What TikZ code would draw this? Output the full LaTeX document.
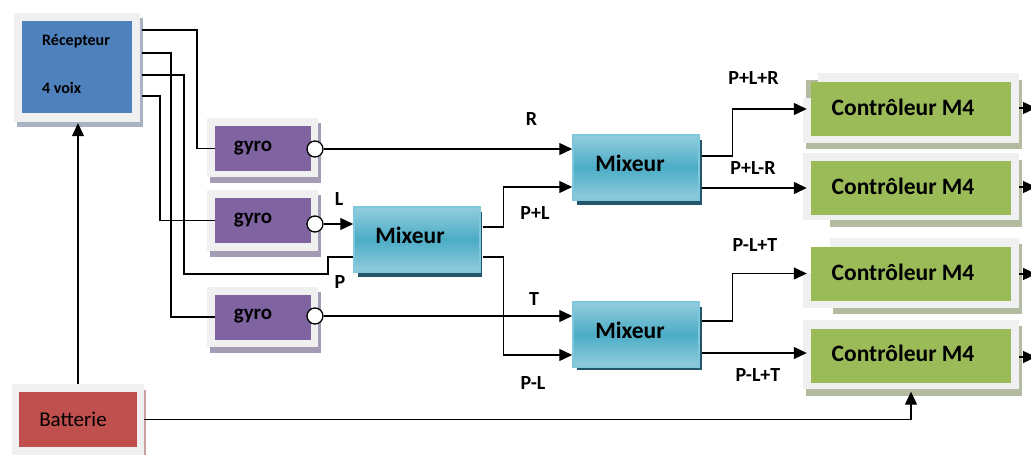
\documentclass[tikz,border=0pt]{standalone}
\usepackage{fontspec}
\setmainfont{Carlito}
\usetikzlibrary{arrows.meta,calc}
\definecolor{framegray}{HTML}{F0F0F0}
\definecolor{recblue}{HTML}{4F81BD}
\definecolor{recshadow}{HTML}{A9B2C2}
\definecolor{gyropurple}{HTML}{8064A2}
\definecolor{gyroshadow}{HTML}{A49BB4}
\definecolor{mixlight}{HTML}{93CDDD}
\definecolor{mixmid}{HTML}{4BACC6}
\definecolor{mixborder}{HTML}{7FC8DC}
\definecolor{mixshadow}{HTML}{23566A}
\definecolor{ctrlgreen}{HTML}{9BBB59}
\definecolor{ctrlshadow}{HTML}{B3BBA1}
\definecolor{batred}{HTML}{C0504D}
\definecolor{batshadow}{HTML}{C9A0A0}
\tikzset{
  conn/.style={line width=1.3pt, draw=black},
  arr/.style={conn, -{Triangle[length=13pt,width=12pt]}},
  recbox/.style={fill=recblue, draw=none, minimum width=110pt, minimum height=92pt},
  gyrobox/.style={fill=gyropurple, draw=none, minimum width=96pt, minimum height=45pt},
  mixbox/.style={top color=mixlight, bottom color=mixlight, middle color=mixmid, draw=mixborder, line width=1.5pt, minimum width=126pt, minimum height=65pt},
  ctrlbox/.style={fill=ctrlgreen, draw=none, minimum width=200pt, minimum height=54pt},
  batbox/.style={fill=batred, draw=none, minimum width=118pt, minimum height=55pt},
  dot/.style={circle, draw=black, fill=white, line width=1.3pt, minimum size=16pt, inner sep=0pt},
  lbl/.style={font=\fontsize{20}{22}\selectfont\bfseries, inner sep=0pt},
  bigtxt/.style={font=\fontsize{23.5}{26}\selectfont\bfseries, inner sep=0pt},
  gyrotxt/.style={font=\fontsize{21}{24}\selectfont\bfseries, inner sep=0pt},
}
\begin{document}
\begin{tikzpicture}[x=1pt,y=-1pt]
\useasboundingbox (0,0) rectangle (1031,455);
\clip (0,0) rectangle (1031,455);
\fill[white] (0,0) rectangle (1031,455);
% ---- Récepteur
\fill[recshadow] (17,18) rectangle (143,127);
\fill[framegray] (14,13) rectangle (140,122);
\node[recbox] (rec) at (77,67) {};
\node[font=\fontsize{16}{18}\selectfont\bfseries, inner sep=0pt, anchor=base west] (rect1) at (42,45) {Récepteur};
\node[font=\fontsize{16}{18}\selectfont\bfseries, inner sep=0pt, anchor=base west] (rect2) at (42,93) {4 voix};
% ---- gyros
\foreach \ya/\yb in {118/177,190/251,287/347}{
  \fill[gyroshadow] (210,\ya+5) rectangle (321,\yb+6);
  \fill[framegray] (207,\ya) rectangle (318,\yb);
}
\node[gyrobox] (g1) at (263,148.5) {};
\node[gyrobox] (g2) at (263,220.5) {};
\node[gyrobox] (g3) at (263,317) {};
\node[gyrotxt] (g1t) at (253,148) {gyro};
\node[gyrotxt] (g2t) at (253,220) {gyro};
\node[gyrotxt] (g3t) at (253,316) {gyro};
% ---- mixers
\fill[mixshadow] (358,212) rectangle (482,277);
\fill[mixshadow] (577,140) rectangle (702,205);
\fill[mixshadow] (577,307) rectangle (702,370);
\node[mixbox] (m1) at (417,239.5) {};
\node[mixbox] (m2) at (636,167.5) {};
\node[mixbox] (m3) at (636,334.5) {};
\node[bigtxt] (m1t) at (410,235) {Mixeur};
\node[bigtxt] (m2t) at (630,163) {Mixeur};
\node[bigtxt] (m3t) at (630,330) {Mixeur};
% ---- controllers
\fill[ctrlshadow] (806,80) rectangle (1022,149);
\fill[framegray] (818,73) rectangle (1019,143);
\fill[framegray] (803,98) rectangle (1019,143);
\fill[ctrlshadow] (830,160) rectangle (1022,227);
\fill[framegray] (803,153) rectangle (1019,220);
\fill[ctrlshadow] (833,244) rectangle (1022,314);
\fill[framegray] (830,238) rectangle (1019,308);
\fill[framegray] (803,273) rectangle (1019,308);
\fill[ctrlshadow] (806,326) rectangle (1022,396);
\fill[framegray] (803,320) rectangle (1019,389);
\node[ctrlbox] (c1) at (911,109) {};
\node[ctrlbox] (c2) at (911,188) {};
\node[ctrlbox] (c3) at (911,273.5) {};
\node[ctrlbox] (c4) at (911,355.5) {};
\node[bigtxt] (c1t) at (903,107) {Contrôleur M4};
\node[bigtxt] (c2t) at (903,186) {Contrôleur M4};
\node[bigtxt] (c3t) at (903,272) {Contrôleur M4};
\node[bigtxt] (c4t) at (903,353) {Contrôleur M4};
% ---- battery
\fill[batshadow] (15,390) rectangle (146,460);
\fill[framegray] (12,384) rectangle (144,460);
\node[batbox] (bat) at (78,419.5) {};
\node[font=\fontsize{21}{24}\selectfont, inner sep=0pt] (batt) at (73,419) {Batterie};
% ---- circles
\node[dot] (d1) at (315,149) {};
\node[dot] (d2) at (315,224) {};
\node[dot] (d3) at (315,316) {};
% ---- coordinates
\coordinate (r1) at (142,30);
\coordinate (r2) at (142,53);
\coordinate (r3) at (142,75);
\coordinate (r4) at (142,96);
\coordinate (m1in2) at ($(m1.west)+(0,17.5)$);
\coordinate (m1o1) at ($(m1.east)+(2,-12.5)$);
\coordinate (m1o2) at ($(m1.east)+(2,17.5)$);
\coordinate (m2in2) at ($(m2.west)+(0,19.5)$);
\coordinate (m3in2) at ($(m3.west)+(0,20.5)$);
\coordinate (m2o1) at ($(m2.east)+(2,-11.5)$);
\coordinate (m2o2) at ($(m2.east)+(2,20.5)$);
\coordinate (m3o1) at ($(m3.east)+(2,-13.5)$);
\coordinate (m3o2) at ($(m3.east)+(2,18.5)$);
\coordinate (o1) at (1019,108);
\coordinate (o2) at (1019,187);
\coordinate (o3) at (1019,274);
\coordinate (o4) at (1019,357);
% ---- connectors
\draw[conn] (r1) -- ++(55,0) |- (g1.west);
\draw[conn] (r2) -- ++(29,0) |- (g3.west);
\draw[conn] (r3) -- ++(42,0) |- (328,274) |- (m1in2);
\draw[conn] (r4) -- ++(18,0) |- (g2.west);
\draw[arr] (d1) -- (d1 -| m2.west);
\draw[arr] (d2) -- (d2 -| m1.west);
\draw[arr] (d3) -- (d3 -| m3.west);
\draw[arr] (m1o1) -- ++(21,0) |- (m2in2);
\draw[arr] (m1o2) -- ++(21,0) |- (m3in2);
\draw[arr, shorten >=4pt] (m2o1) -- ++(31,0) |- (c1.west);
\draw[arr, shorten >=4pt] (m2o2) -- (m2o2 -| c2.west);
\draw[arr, shorten >=4pt] (m3o1) -- ++(31,0) |- (c3.west);
\draw[arr, shorten >=4pt] (m3o2) -- (m3o2 -| c4.west);
\draw[arr] (o1) -- ++(17,0);
\draw[arr] (o2) -- ++(17,0);
\draw[arr] (o3) -- ++(17,0);
\draw[arr] (o4) -- ++(17,0);
\draw[arr, shorten <=8pt, shorten >=10pt] (bat.north) -- (bat.north |- rec.south);
\draw[arr, shorten <=7pt, shorten >=9pt] (bat.east) -| (c4.south);
% ---- labels
\node[lbl] (lR) at (531.5,119) {R};
\node[lbl] (lL) at (339,199) {L};
\node[lbl] (lP) at (340,282) {P};
\node[lbl] (lT) at (534,299) {T};
\node[lbl] (lPL) at (535,213) {P+L};
\node[lbl] (lPmL) at (533,383) {P-L};
\node[lbl] (lPLR) at (753.5,78) {P+L+R};
\node[lbl] (lPLmR) at (753,168) {P+L-R};
\node[lbl] (lPmLT) at (755,245) {P-L+T};
\node[lbl] (lPmLT2) at (758,375) {P-L+T};
\end{tikzpicture}
\end{document}
